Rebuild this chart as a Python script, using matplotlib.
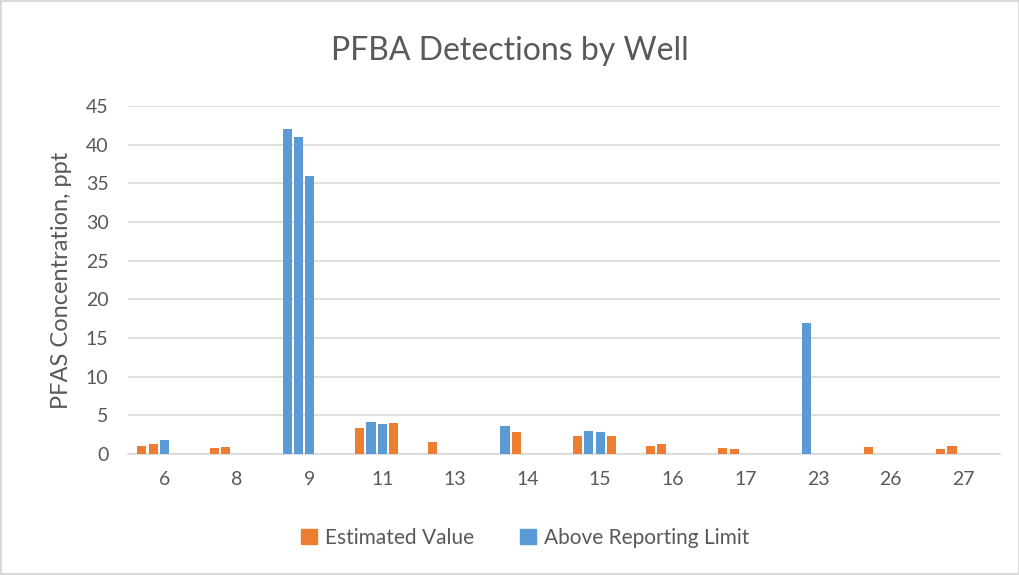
import numpy as np
import matplotlib.pyplot as plt
from matplotlib.patches import Patch

plt.rcParams['font.family'] = ['Lato', 'DejaVu Sans']

wells = ['6', '8', '9', '11', '13', '14', '15', '16', '17', '23', '26', '27']
nan = np.nan

# one list per sample slot within a well; E = estimated value, A = above reporting limit
sample1 = [1.1, 0.8, 42, 3.4, 1.6, 3.6, 2.35, 1.05, 0.75, nan, 0.95, 0.7]
flag1 = ['E', 'E', 'A', 'E', 'E', 'A', 'E', 'E', 'E', '', 'E', 'E']
sample2 = [1.25, 0.9, 41, 4.2, nan, 2.9, 3.0, 1.35, 0.7, 17, nan, 1.05]
flag2 = ['E', 'E', 'A', 'A', '', 'E', 'A', 'E', 'E', 'A', '', 'E']
sample3 = [1.75, nan, 36, 3.9, nan, nan, 2.85, nan, nan, nan, nan, nan]
flag3 = ['A', '', 'A', 'A', '', '', 'A', '', '', '', '', '']
sample4 = [nan, nan, nan, 3.95, nan, nan, 2.35, nan, nan, nan, nan, nan]
flag4 = ['', '', '', 'E', '', '', 'E', '', '', '', '', '']

samples = [sample1, sample2, sample3, sample4]
flags = [flag1, flag2, flag3, flag4]

orange = '#ED7D31'
blue = '#5B9BD5'
text_col = '#595959'
colors = {'E': orange, 'A': blue, '': 'none'}

fig = plt.figure(figsize=(10.2, 5.75), dpi=100)
fig.patch.set_edgecolor('#D9D9D9')
fig.patch.set_linewidth(1.5)
ax = fig.add_axes([0.1255, 0.2104, 0.8545, 0.6053])

x = np.arange(len(wells))
n_slots = 5
step = 0.155
width = 0.125
for k, (vals, fl) in enumerate(zip(samples, flags)):
    offs = (k - (n_slots - 1) / 2) * step
    ax.bar(x + offs, vals, width, color=[colors[f] for f in fl], zorder=3)

ax.set_xlim(-0.5, len(wells) - 0.5)
ax.set_ylim(0, 45)
ax.set_yticks(np.arange(0, 46, 5))
ax.set_xticks(x)
ax.set_xticklabels(wells)
ax.grid(axis='y', color='#D9D9D9', linewidth=1.2, zorder=0)
for s in ['top', 'right', 'left']:
    ax.spines[s].set_visible(False)
ax.spines['bottom'].set_color('#D9D9D9')
ax.spines['bottom'].set_linewidth(1.2)
ax.tick_params(length=0, labelsize=14, colors=text_col)
ax.tick_params(axis='x', pad=12)
ax.tick_params(axis='y', pad=14)

ax.set_ylabel('PFAS Concentration, ppt', fontsize=17, color=text_col, labelpad=10)
fig.text(0.5, 0.912, 'PFBA Detections by Well', ha='center', va='center',
         fontsize=23, color=text_col)

handles = [Patch(color=orange, label='Estimated Value'),
           Patch(color=blue, label='Above Reporting Limit')]
fig.legend(handles=handles, loc='center', bbox_to_anchor=(0.515, 0.065), ncol=2,
           frameon=False, fontsize=15, labelcolor=text_col, handlelength=0.75,
           handleheight=0.75, handletextpad=0.4, columnspacing=2.2)

fig.savefig('out.png', dpi=100)
